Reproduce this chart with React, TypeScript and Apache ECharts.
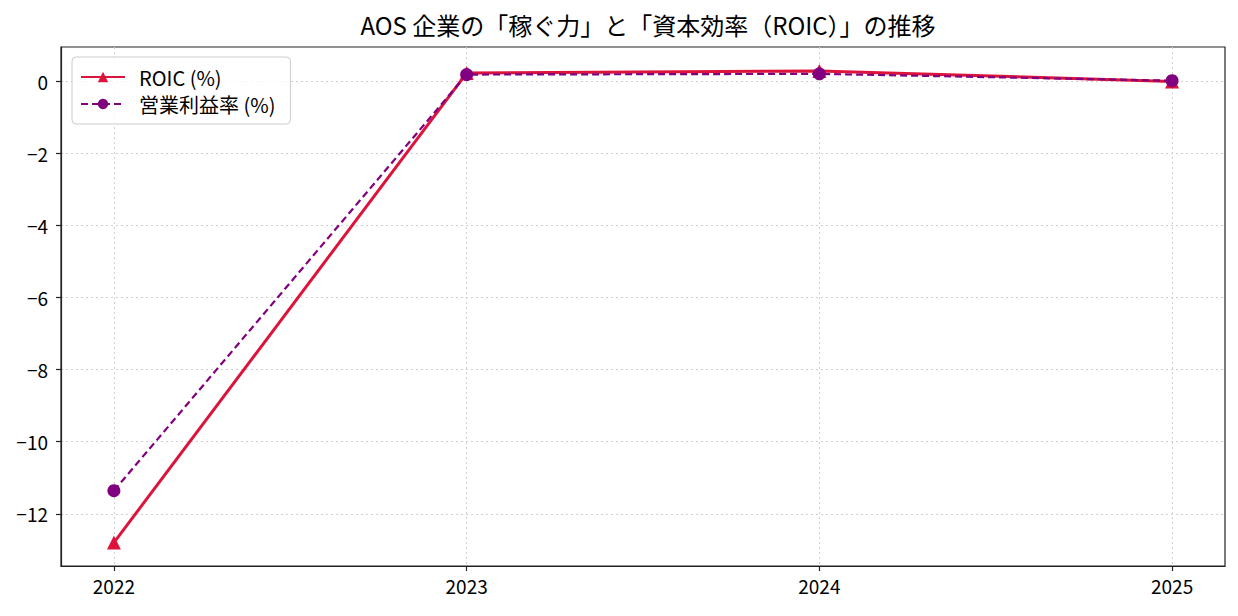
import { useEffect, useRef } from 'react';
import * as echarts from 'echarts';

const years = [2022, 2023, 2024, 2025];
const roic = [-12.8, 0.23, 0.29, 0.0];
const opMargin = [-11.36, 0.19, 0.21, 0.02];
const yTicks = [-12, -10, -8, -6, -4, -2, 0];

const FONT = '"Noto Sans CJK JP", sans-serif';

export default function App() {
  const chartRef = useRef<HTMLDivElement>(null);

  useEffect(() => {
    if (!chartRef.current) return;
    const chart = echarts.init(chartRef.current, undefined, { renderer: 'svg' });

    const option: echarts.EChartsOption = {
      animation: false,
      backgroundColor: '#fff',
      textStyle: { fontFamily: FONT },
      title: {
        text: 'AOS 企業の「稼ぐ力」と「資本効率（ROIC）」の推移',
        left: 643,
        textAlign: 'center',
        top: 7,
        textStyle: { fontFamily: FONT, fontSize: 24, fontWeight: 'normal', color: '#000' },
      },
      legend: {
        orient: 'vertical',
        left: 72,
        top: 57,
        padding: [10, 15, 10, 8],
        itemGap: 7,
        itemWidth: 44,
        itemHeight: 13,
        borderColor: '#ccc',
        borderWidth: 1,
        borderRadius: 4,
        backgroundColor: 'rgba(255,255,255,0.8)',
        textStyle: { fontFamily: FONT, fontSize: 20, color: '#000', padding: [0, 0, 0, 9] },
        data: ['ROIC (%)', '営業利益率 (%)'],
      },
      grid: {
        left: 61,
        right: 13,
        top: 47,
        bottom: 50,
        show: true,
        borderColor: '#222',
        borderWidth: 1.2,
        containLabel: false,
      },
      xAxis: {
        type: 'value',
        min: 2021.85,
        max: 2025.15,
        axisLine: { show: true, onZero: false, lineStyle: { color: '#222', width: 1.2 } },
        axisTick: {
          show: true,
          length: 5,
          lineStyle: { color: '#222', width: 1.2 },
          customValues: years,
        },
        axisLabel: {
          fontFamily: FONT,
          fontSize: 19,
          color: '#000',
          margin: 10,
          customValues: years,
          formatter: (v: number) => String(v),
        },
        splitLine: { show: true, lineStyle: { color: '#d0d0d0', type: [2, 3], width: 1 } },
      },
      yAxis: {
        type: 'value',
        min: -13.45,
        max: 0.955,
        axisLine: { show: true, onZero: false, lineStyle: { color: '#222', width: 1.2 } },
        axisTick: {
          show: true,
          length: 5,
          lineStyle: { color: '#222', width: 1.2 },
          customValues: yTicks,
        },
        axisLabel: {
          fontFamily: FONT,
          fontSize: 19,
          color: '#000',
          margin: 13,
          customValues: yTicks,
          formatter: (v: number) => String(v).replace('-', '\u2212'),
        },
        splitLine: { show: true, lineStyle: { color: '#d0d0d0', type: [2, 3], width: 1 } },
      },
      series: [
        {
          name: 'ROIC (%)',
          type: 'line',
          data: years.map((y, i) => [y, roic[i]]),
          symbol: 'triangle',
          symbolSize: 14,
          itemStyle: { color: '#DC143C' },
          lineStyle: { color: '#DC143C', width: 3 },
          z: 2,
        },
        {
          name: '営業利益率 (%)',
          type: 'line',
          data: years.map((y, i) => [y, opMargin[i]]),
          symbol: 'circle',
          symbolSize: 13,
          itemStyle: { color: '#800080' },
          lineStyle: { color: '#800080', width: 2.2, type: [7, 4] },
          z: 3,
        },
      ],
    };

    chart.setOption(option);
    return () => chart.dispose();
  }, []);

  return <div ref={chartRef} style={{ width: 1238, height: 616, margin: -8 }} />;
}
